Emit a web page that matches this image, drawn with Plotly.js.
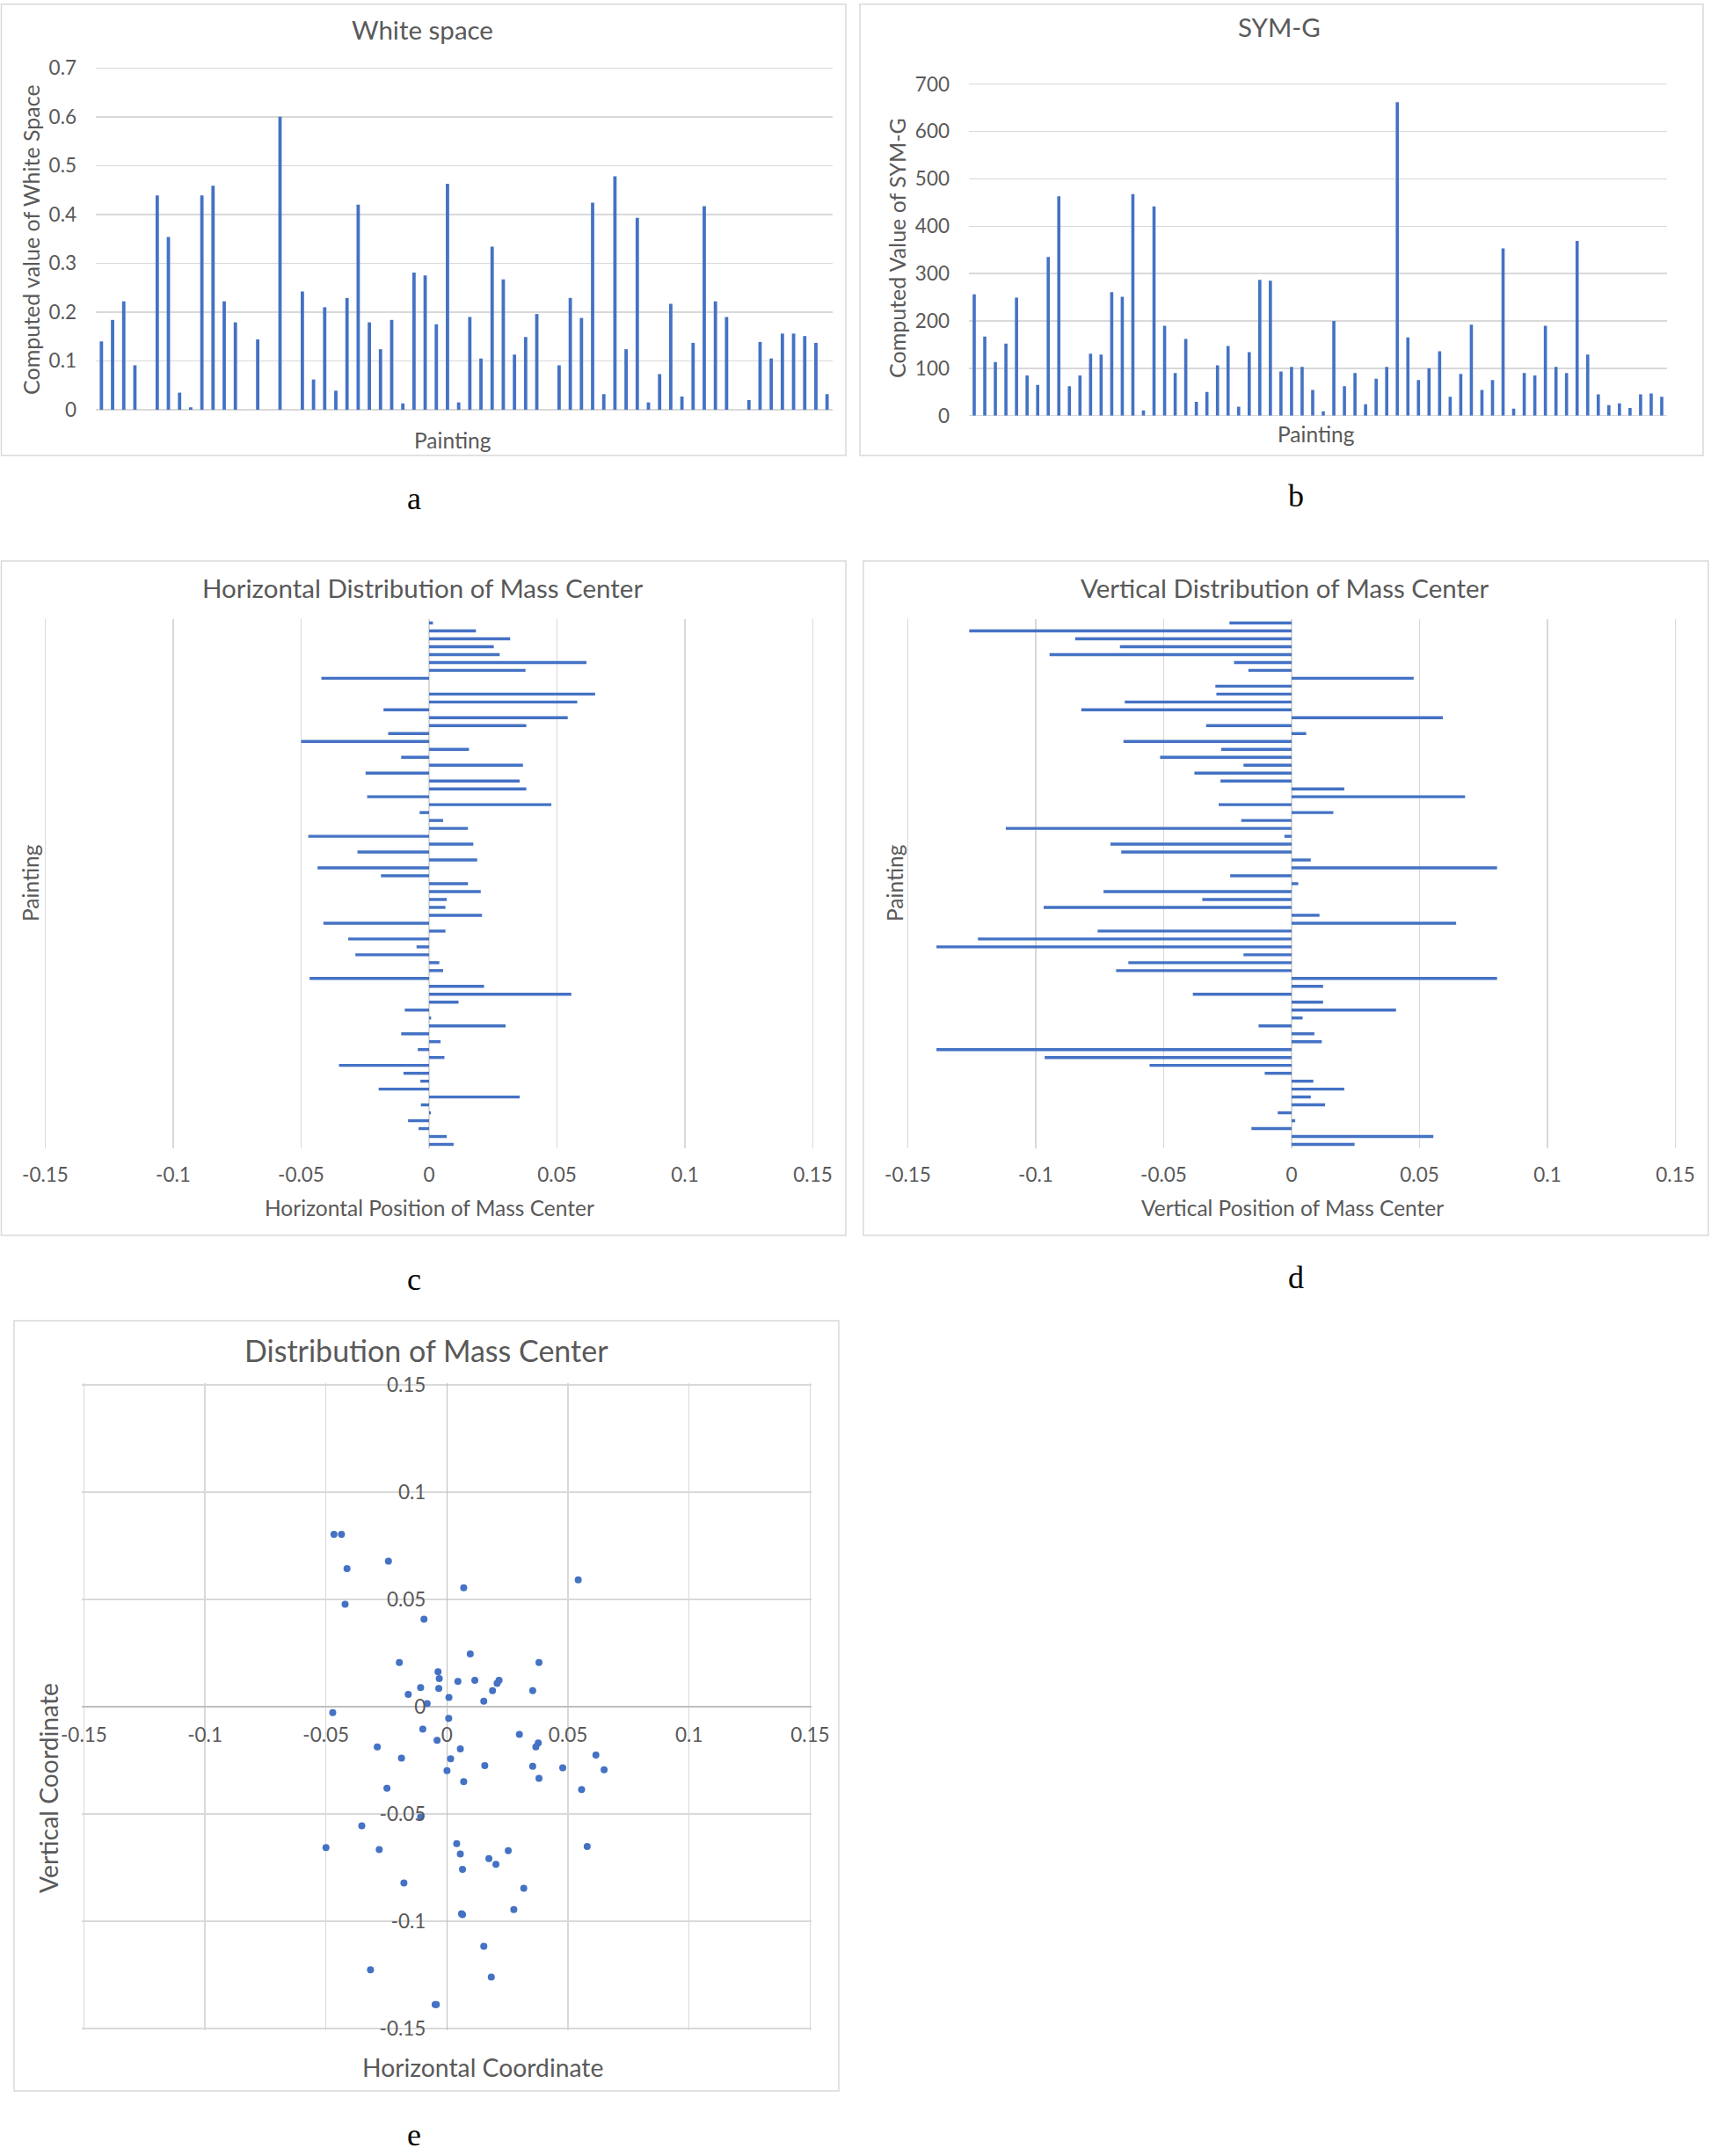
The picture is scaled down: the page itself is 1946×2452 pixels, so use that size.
<!DOCTYPE html>
<html>
<head>
<meta charset="utf-8">
<script src="https://cdn.plot.ly/plotly-3.0.1.min.js"></script>
<style>
html,body{margin:0;padding:0;background:#fff;}
#chart{width:1946px;height:2452px;}
</style>
</head>
<body>
<div id="chart"></div>
<script>
// ---------- data ----------
const whiteSpace = [0.140,0.184,0.222,0.091,0,0.439,0.354,0.035,0.005,0.439,
  0.459,0.222,0.179,0,0.144,0,0.600,0,0.242,0.062,
  0.210,0.039,0.229,0.420,0.179,0.124,0.184,0.013,0.281,0.275,
  0.175,0.463,0.015,0.190,0.105,0.334,0.267,0.113,0.149,0.196,
  0,0.091,0.229,0.188,0.424,0.032,0.478,0.124,0.393,0.015,
  0.073,0.217,0.027,0.137,0.417,0.222,0.190,0,0.020,0.139,
  0.105,0.156,0.156,0.151,0.137,0.032];

const symG = [256,167,113,152,249,85,65,335,463,62,
  85,131,129,261,251,468,11,442,190,90,
  162,29,50,106,147,19,134,287,285,93,
  103,103,54,9,200,62,90,24,78,103,
  662,165,75,100,136,40,88,192,54,75,
  353,15,90,85,190,103,90,369,129,45,
  22,26,16,45,47,40];

// horizontal position of mass center (top to bottom as drawn)
const horizPos = [0.0015,0.0183,0.0317,0.0253,0.0276,0.0615,0.0377,-0.0421,0,0.0649,
  0.0579,-0.0178,0.0542,0.0380,-0.0160,-0.0500,0.0156,-0.0109,0.0367,-0.0248,
  0.0354,0.0380,-0.0242,0.0478,-0.0037,0.0055,0.0152,-0.0472,0.0173,-0.0280,
  0.0188,-0.0436,-0.0188,0.0152,0.0202,0.0069,0.0064,0.0207,-0.0413,0.0064,
  -0.0316,-0.0049,-0.0288,0.0040,0.0055,-0.0467,0.0215,0.0556,0.0115,-0.0095,
  0.0008,0.0299,-0.0109,0.0045,-0.0044,0.0060,-0.0352,-0.0100,-0.0034,-0.0197,
  0.0354,-0.0032,0.0007,-0.0082,-0.0041,0.0069,0.0096];

// vertical position of mass center (top to bottom as drawn)
const vertPos = [-0.0243,-0.1260,-0.0846,-0.0671,-0.0946,-0.0225,-0.0169,0.0477,-0.0298,-0.0294,
  -0.0652,-0.0822,0.0591,-0.0334,0.0057,-0.0657,-0.0275,-0.0514,-0.0188,-0.0380,
  -0.0278,0.0206,0.0678,-0.0285,0.0163,-0.0197,-0.1117,-0.0028,-0.0708,-0.0666,
  0.0075,0.0803,-0.0240,0.0026,-0.0735,-0.0349,-0.0969,0.0109,0.0643,-0.0758,
  -0.1226,-0.1388,-0.0188,-0.0638,-0.0686,0.0803,0.0123,-0.0386,0.0123,0.0408,
  0.0043,-0.0129,0.0089,0.0118,-0.1388,-0.0965,-0.0555,-0.0105,0.0085,0.0206,
  0.0075,0.0131,-0.0054,0.0014,-0.0157,0.0554,0.0246];

const paintingsA = whiteSpace.map((_, i) => i + 1);
const paintingsB = symG.map((_, i) => i + 1);
const paintingsC = horizPos.map((_, i) => i + 1);

const wsTicks = [0,0.1,0.2,0.3,0.4,0.5,0.6,0.7];
const wsTickText = ['0','0.1','0.2','0.3','0.4','0.5','0.6','0.7'];
const symTicks = [0,100,200,300,400,500,600,700];
const posTicks = [-0.15,-0.1,-0.05,0,0.05,0.1,0.15];
const posTickText = ['-0.15','-0.1','-0.05','0','0.05','0.1','0.15'];

// ---------- layout helpers ----------
const W = 1946, H = 2452;
const fx = px => px / W;
const fy = py => 1 - py / H;
const BLUE = '#4472C4';
const GRID = '#d9d9d9';
const TXT = '#595959';
const FONT = 'Lato, "Open Sans", sans-serif';

// map an extended range onto pixel edges: value v0 sits at pixel p0, v1 at p1
function spanX(v0, p0, v1, p1, r0, r1) {
  const k = (p1 - p0) / (v1 - v0);
  return [fx(p0 + (r0 - v0) * k), fx(p0 + (r1 - v0) * k)];
}
function spanY(v0, p0, v1, p1, r0, r1) {
  const k = (p1 - p0) / (v1 - v0);
  return [fy(p0 + (r0 - v0) * k), fy(p0 + (r1 - v0) * k)];
}

const posRange = [-0.1507, 0.1507];
const wsRange = [0, 0.7035];
const symRange = [0, 703.5];

const traces = [
  {type:'bar', x:paintingsA, y:whiteSpace, xaxis:'x', yaxis:'y', width:0.3, marker:{color:BLUE}, hoverinfo:'skip'},
  {type:'bar', x:paintingsB, y:symG, xaxis:'x2', yaxis:'y2', width:0.3, marker:{color:BLUE}, hoverinfo:'skip'},
  {type:'bar', orientation:'h', x:horizPos, y:paintingsC, xaxis:'x3', yaxis:'y3', width:0.38, marker:{color:BLUE}, hoverinfo:'skip'},
  {type:'bar', orientation:'h', x:vertPos, y:paintingsC, xaxis:'x4', yaxis:'y4', width:0.38, marker:{color:BLUE}, hoverinfo:'skip'},
  {type:'scatter', mode:'markers', x:horizPos, y:vertPos, xaxis:'x5', yaxis:'y5',
   marker:{color:BLUE, size:8}, hoverinfo:'skip'}
];

const tickFont = {family:FONT, size:22.5, color:TXT};
const catAxis = (dom, n, anchor) => ({domain:dom, anchor:anchor, range:[0.5, n+0.5],
  showgrid:false, zeroline:false, showline:false, showticklabels:false, ticks:'', fixedrange:true});
const catAxisH = (dom, n, anchor) => ({domain:dom, anchor:anchor, range:[n+0.5, 0.5],
  showgrid:false, zeroline:false, showline:false, showticklabels:false, ticks:'', fixedrange:true});
const valAxisPos = (dom, anchor, extra) => Object.assign({domain:dom, anchor:anchor, range:posRange,
  tickmode:'array', tickvals:posTicks, ticktext:posTickText, showgrid:true, gridcolor:GRID, gridwidth:1.5,
  zeroline:true, zerolinecolor:GRID, zerolinewidth:1.5, showline:false, ticks:'', tickfont:tickFont,
  ticklabelstandoff:14, fixedrange:true}, extra || {});

const layout = {
  width:W, height:H,
  margin:{l:0,r:0,t:0,b:0,pad:0},
  paper_bgcolor:'#ffffff', plot_bgcolor:'rgba(0,0,0,0)',
  showlegend:false,
  font:{family:FONT, color:TXT},
  xaxis: catAxis([fx(109), fx(947)], whiteSpace.length, 'y'),
  yaxis: {domain:spanY(0, 466, 0.7, 77.3, wsRange[0], wsRange[1]), anchor:'x', range:wsRange,
    tickmode:'array', tickvals:wsTicks, ticktext:wsTickText,
    showgrid:true, gridcolor:GRID, gridwidth:1.5, zeroline:true, zerolinecolor:GRID, zerolinewidth:1.5,
    showline:false, ticks:'', tickfont:tickFont, ticklabelstandoff:21, fixedrange:true},
  xaxis2: catAxis([fx(1102), fx(1896)], symG.length, 'y2'),
  yaxis2: {domain:spanY(0, 472.7, 700, 95.7, symRange[0], symRange[1]), anchor:'x2', range:symRange,
    tickmode:'array', tickvals:symTicks,
    showgrid:true, gridcolor:GRID, gridwidth:1.5, zeroline:true, zerolinecolor:GRID, zerolinewidth:1.5,
    showline:false, ticks:'', tickfont:tickFont, ticklabelstandoff:21, fixedrange:true},
  xaxis3: valAxisPos(spanX(-0.15, 51.5, 0.15, 924.5, posRange[0], posRange[1]), 'y3'),
  yaxis3: catAxisH([fy(1306), fy(704)], horizPos.length, 'x3'),
  xaxis4: valAxisPos(spanX(-0.15, 1032.5, 0.15, 1905.5, posRange[0], posRange[1]), 'y4'),
  yaxis4: catAxisH([fy(1306), fy(704)], vertPos.length, 'x4'),
  xaxis5: valAxisPos(spanX(-0.15, 95.4, 0.15, 921.4, posRange[0], posRange[1]), 'free',
    {position:fy(1941), zerolinecolor:'#bfbfbf', ticklabelstandoff:16}),
  yaxis5: valAxisPos(spanY(-0.15, 2307, 0.15, 1575, posRange[0], posRange[1]), 'free',
    {position:fx(508.4), zerolinecolor:'#bfbfbf', ticklabelstandoff:24}),
  shapes: [
    [1.5,4.7,962,518],[978,4.7,1937,518],
    [1.5,638,962,1405],[982,638,1943,1405],
    [16,1502,954,2378]
  ].map(b => ({type:'rect', xref:'paper', yref:'paper', x0:fx(b[0]), x1:fx(b[2]), y0:fy(b[1]), y1:fy(b[3]),
      line:{color:GRID, width:1.5}, fillcolor:'rgba(0,0,0,0)', layer:'below'})),
  annotations: []
};

function ann(text, x, y, size, opts) {
  layout.annotations.push(Object.assign({text:text, xref:'paper', yref:'paper', x:fx(x), y:fy(y),
    xanchor:'center', yanchor:'middle', showarrow:false, font:{family:FONT, size:size, color:TXT}}, opts || {}));
}
// panel titles
ann('White space', 480, 34, 29.5);
ann('SYM-G', 1455, 31, 29.5);
ann('Horizontal Distribution of Mass Center', 480, 668, 29.5);
ann('Vertical Distribution of Mass Center', 1461, 668, 29.5);
ann('Distribution of Mass Center', 485, 1536, 34);
// axis titles
ann('Computed value of White Space', 35, 273, 25, {textangle:-90});
ann('Painting', 515, 500, 24.5);
ann('Computed Value of SYM-G', 1020, 282, 25, {textangle:-90});
ann('Painting', 1497, 493, 24.5);
ann('Horizontal Position of Mass Center', 488, 1373, 24.5);
ann('Painting', 34, 1004, 24.5, {textangle:-90});
ann('Vertical Position of Mass Center', 1470, 1373, 24.5);
ann('Painting', 1017, 1004, 24.5, {textangle:-90});
ann('Horizontal Coordinate', 549, 2351, 28.3);
ann('Vertical Coordinate', 55, 2034, 28.3, {textangle:-90});
// captions
const capFont = {family:'"Liberation Serif", "DejaVu Serif", serif', size:36, color:'#000000'};
ann('a', 471, 567, 36, {font:capFont});
ann('b', 1474, 564, 36, {font:capFont});
ann('c', 471, 1455, 36, {font:capFont});
ann('d', 1474, 1453, 36, {font:capFont});
ann('e', 471, 2428, 36, {font:capFont});

Plotly.newPlot('chart', traces, layout, {displayModeBar:false, staticPlot:true});
</script>
</body>
</html>
